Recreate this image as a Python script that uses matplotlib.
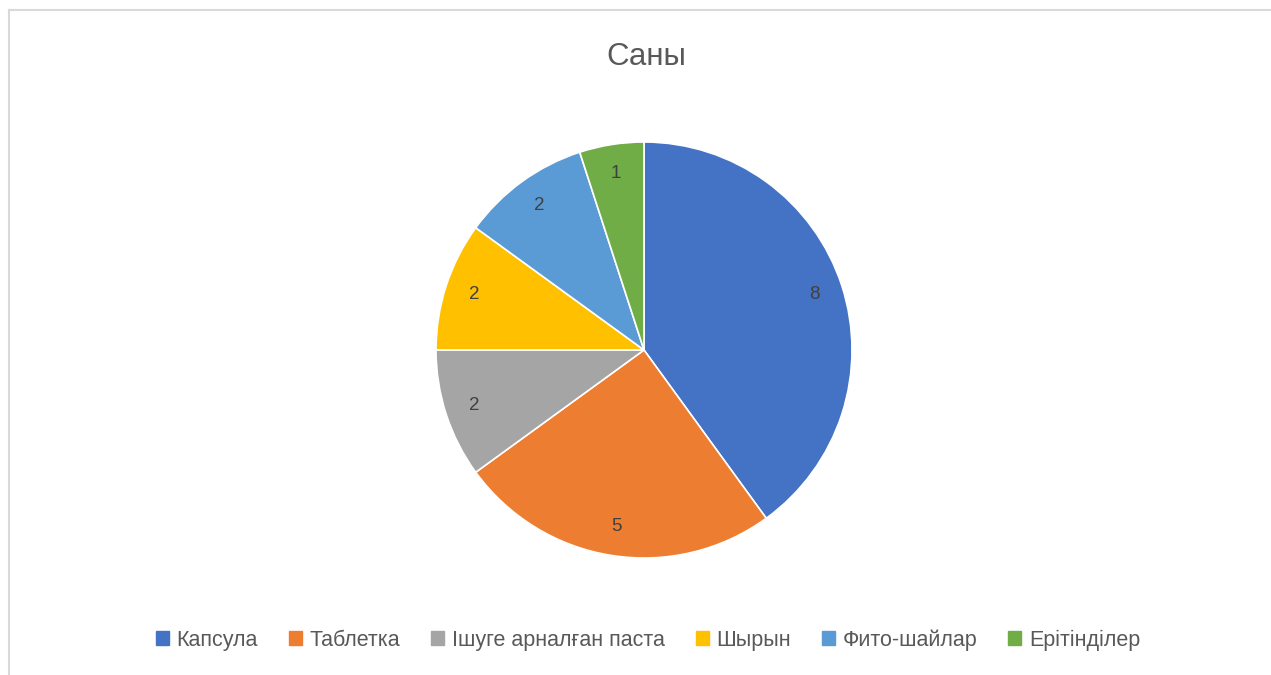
import matplotlib.pyplot as plt
from matplotlib.lines import Line2D
import matplotlib.patches as mpatches
import numpy as np

# ── Data ──────────────────────────────────────────────────────────────────────
categories = ["Капсула", "Таблетка", "Ішуге арналған паста", "Шырын", "Фито-шайлар", "Ерітінділер"]
values = [8, 5, 2, 2, 2, 1]
colours = ["#4472C4", "#ED7D31", "#A5A5A5", "#FFC000", "#5B9BD5", "#70AD47"]

plt.rcParams["font.family"] = ["Liberation Sans", "DejaVu Sans"]

W, H = 1271, 675
fig = plt.figure(figsize=(W / 100, H / 100), dpi=100)

# pie axes: centre (644, 350), radius 208 px
cx, cy, r = 644, 350, 208
ax = fig.add_axes([(cx - r) / W, 1 - (cy + r) / H, 2 * r / W, 2 * r / H])
wedges, _ = ax.pie(values, colors=colours, startangle=90, counterclock=False,
                   radius=1, wedgeprops=dict(edgecolor="white", linewidth=1.2))
ax.set_xlim(-1, 1)
ax.set_ylim(-1, 1)
ax.set_aspect("equal")
ax.axis("off")

# value labels
total = sum(values)
start = 90.0
for v in values:
    mid = np.deg2rad(start - v / total * 360 / 2)
    ax.text(0.86 * np.cos(mid), 0.86 * np.sin(mid), str(v), ha="center", va="center",
            fontsize=13.5, color="#404040")
    start -= v / total * 360

# title
fig.text(646 / W, 1 - 57 / H, "Саны", ha="center", va="center", fontsize=22.5, color="#595959")

# legend
handles = [mpatches.Patch(color=c, label=l) for c, l in zip(colours, categories)]
fig.legend(handles=handles, loc="center", bbox_to_anchor=(648 / W, 1 - 640 / H), ncol=6,
           frameon=False, fontsize=15.5, labelcolor="#595959",
           handlelength=0.6, handleheight=0.6, handletextpad=0.35, columnspacing=1.45)

# chart border (left and top)
fig.add_artist(Line2D([8.5 / W, 8.5 / W], [0, 1 - 10 / H], color="#D9D9D9", lw=1.5))
fig.add_artist(Line2D([8.5 / W, 1], [1 - 10 / H, 1 - 10 / H], color="#D9D9D9", lw=1.5))

plt.savefig("out.png", dpi=100)
plt.close()
